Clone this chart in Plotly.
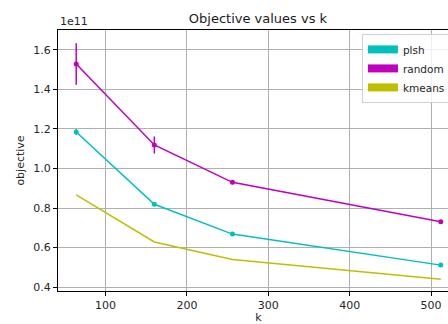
import plotly.graph_objects as go

k = [64, 160, 256, 512]
plsh = [1.185, 0.819, 0.668, 0.511]
plsh_err = [0.015, 0.010, 0.006, 0.005]
random_ = [1.529, 1.119, 0.930, 0.731]
random_err = [0.105, 0.043, 0.010, 0.006]
kmeans = [0.867, 0.628, 0.540, 0.439]

C_PLSH = "#00bfbf"
C_RAND = "#bf00bf"
C_KM = "#bfbf00"
FONT = "DejaVu Sans"

fig = go.Figure()

fig.add_trace(go.Scatter(x=k, y=plsh, mode="lines+markers", line=dict(color=C_PLSH, width=1.5),
                         marker=dict(size=5, color=C_PLSH),
                         error_y=dict(type="data", array=plsh_err, color=C_PLSH, thickness=1.5, width=0),
                         showlegend=False))
fig.add_trace(go.Scatter(x=k, y=random_, mode="lines+markers", line=dict(color=C_RAND, width=1.5),
                         marker=dict(size=5, color=C_RAND),
                         error_y=dict(type="data", array=random_err, color=C_RAND, thickness=1.5, width=0),
                         showlegend=False))
fig.add_trace(go.Scatter(x=k, y=kmeans, mode="lines", line=dict(color=C_KM, width=1.5),
                         showlegend=False))

for name, c in [("plsh", C_PLSH), ("random", C_RAND), ("kmeans", C_KM)]:
    fig.add_trace(go.Scatter(x=[None], y=[None], mode="lines", name=name,
                             line=dict(color=c, width=8)))

fig.update_layout(
    width=460, height=324,
    margin=dict(l=58, r=1, t=30, b=33),
    paper_bgcolor="white", plot_bgcolor="white",
    font=dict(family=FONT, size=11, color="#262626"),
    title=dict(text="Objective values vs k", x=258 / 460, xanchor="center",
               y=1 - 18 / 324, yanchor="middle", font=dict(size=13, color="#1a1a1a")),
    legend=dict(x=0.758, y=0.985, xanchor="left", yanchor="top",
                bgcolor="rgba(255,255,255,0.8)", bordercolor="#d0d0d0", borderwidth=1,
                font=dict(size=10.5), tracegroupgap=0, itemwidth=30),
    annotations=[dict(text="1e11", xref="paper", yref="paper", x=0, y=1, xanchor="left",
                      yanchor="bottom", showarrow=False, font=dict(size=11), yshift=0)],
)
fig.update_xaxes(range=[41.6, 534.4], tickvals=[100, 200, 300, 400, 500],
                 showgrid=True, gridcolor="#b0b0b0", gridwidth=1,
                 showline=True, linecolor="black", linewidth=1, mirror=True,
                 ticks="outside", ticklen=4, tickcolor="black", zeroline=False,
                 title=dict(text="k", standoff=4, font=dict(size=11)))
fig.update_yaxes(range=[0.38, 1.701], tickvals=[0.4, 0.6, 0.8, 1.0, 1.2, 1.4, 1.6], tickformat=".1f",
                 showgrid=True, gridcolor="#b0b0b0", gridwidth=1,
                 showline=True, linecolor="black", linewidth=1, mirror=True,
                 ticks="outside", ticklen=4, tickcolor="black", zeroline=False,
                 title=dict(text="objective", standoff=6, font=dict(size=11)))

fig.write_html("out.html", config={"displayModeBar": False},
               post_script="document.body.style.margin='0';document.body.style.overflow='hidden';document.documentElement.style.overflow='hidden';")
